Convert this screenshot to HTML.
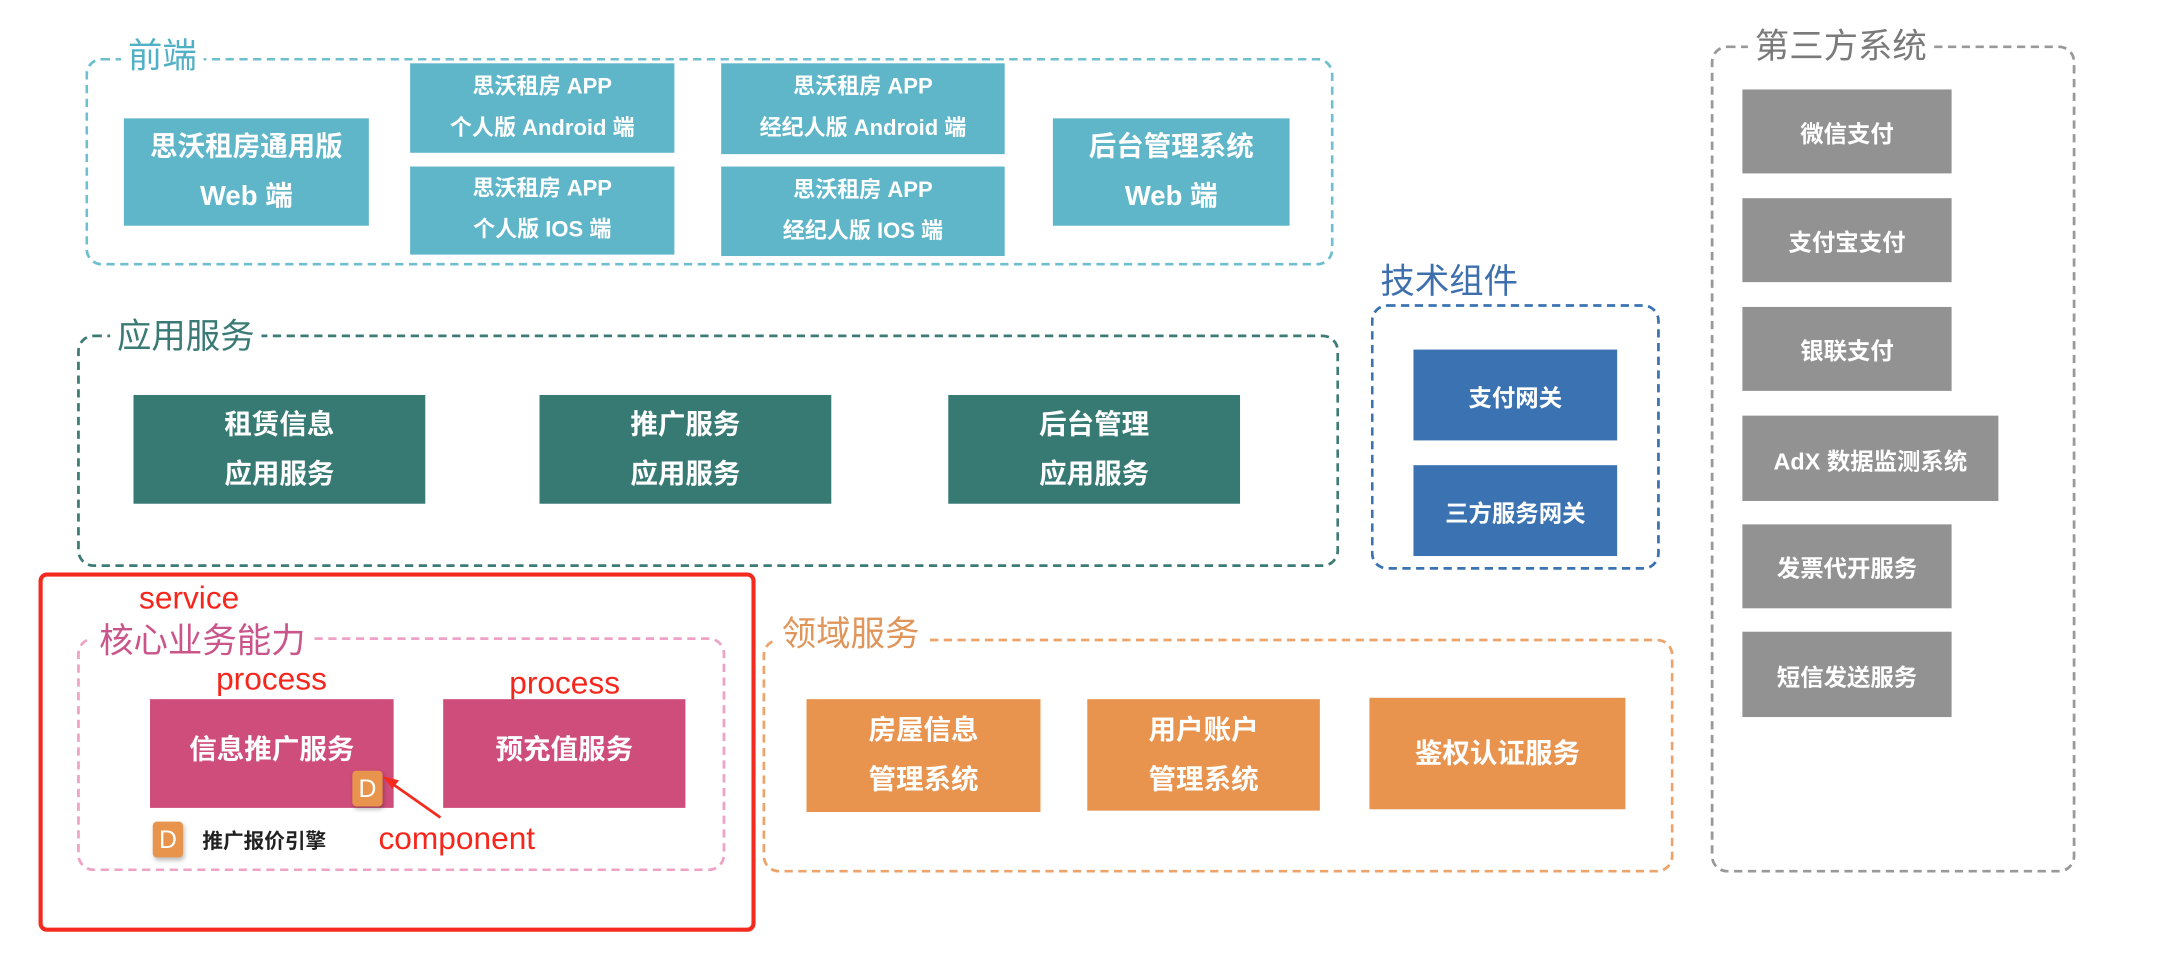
<!DOCTYPE html>
<html><head><meta charset="utf-8"><style>
html,body{margin:0;padding:0;background:#fff;width:2158px;height:954px;overflow:hidden}
#w{position:absolute;left:0;top:0;width:1568px;height:694px;transform:scale(1.3763);transform-origin:0 0;font-family:"Liberation Sans","Noto Sans CJK SC",sans-serif}
.g{position:absolute;border:2px dashed;border-radius:12px;box-sizing:border-box}
.t{position:absolute;background:#fff;font-size:25px;line-height:30px;padding:0 5px;white-space:nowrap}
.b{position:absolute;color:#fff;display:flex;align-items:center;justify-content:center;text-align:center;font-weight:bold;box-sizing:border-box}
.f20{font-size:20px;line-height:36px}
.f16{font-size:16px;line-height:30px}
.f17{font-size:17px}
.cy{background:#5fb6c9}.dt{background:#377a73}.bl{background:#3a72b2}.gr{background:#929292}.pk{background:#cf4d7a}.or{background:#e8934e}
.red{position:absolute;color:#f5261b;font-size:23px;white-space:nowrap}
.d{position:absolute;background:#e8944c;color:#fff;border-radius:3px;font-size:18px;display:flex;align-items:center;justify-content:center;box-shadow:1px 2px 3px rgba(0,0,0,.25)}
</style></head><body><div id="w">
<div class="g" style="left:62px;top:42px;width:907px;height:151px;border-color:#6fbfcf"></div>
<div class="t" style="left:88px;top:26px;color:#4fb0c6">前端</div>
<div class="b cy f20" style="left:90px;top:86px;width:178px;height:78px">思沃租房通用版<br>Web 端</div>
<div class="b cy f16" style="left:298px;top:46px;width:192px;height:65px">思沃租房 APP<br>个人版 Android 端</div>
<div class="b cy f16" style="left:298px;top:121px;width:192px;height:64px">思沃租房 APP<br>个人版 IOS 端</div>
<div class="b cy f16" style="left:524px;top:46px;width:206px;height:66px">思沃租房 APP<br>经纪人版 Android 端</div>
<div class="b cy f16" style="left:524px;top:121px;width:206px;height:65px">思沃租房 APP<br>经纪人版 IOS 端</div>
<div class="b cy f20" style="left:765px;top:86px;width:172px;height:78px">后台管理系统<br>Web 端</div>

<div class="g" style="left:56px;top:243px;width:917px;height:169px;border-color:#3d7b75"></div>
<div class="t" style="left:80px;top:230px;color:#3a7a74">应用服务</div>
<div class="b dt f20" style="left:97px;top:287px;width:212px;height:79px">租赁信息<br>应用服务</div>
<div class="b dt f20" style="left:392px;top:287px;width:212px;height:79px">推广服务<br>应用服务</div>
<div class="b dt f20" style="left:689px;top:287px;width:212px;height:79px">后台管理<br>应用服务</div>

<div class="g" style="left:996px;top:221px;width:210px;height:193px;border-color:#3b73b2"></div>
<div class="t" style="left:998px;top:190px;color:#3d6fae">技术组件</div>
<div class="b bl f17" style="left:1027px;top:254px;width:148px;height:66px">支付网关</div>
<div class="b bl f17" style="left:1027px;top:338px;width:148px;height:66px">三方服务网关</div>

<div class="g" style="left:1243px;top:33px;width:265px;height:601px;border-color:#999"></div>
<div class="t" style="left:1270px;top:19px;color:#7a7a7a">第三方系统</div>
<div class="b gr f17" style="left:1266px;top:65px;width:152px;height:61px">微信支付</div>
<div class="b gr f17" style="left:1266px;top:144px;width:152px;height:61px">支付宝支付</div>
<div class="b gr f17" style="left:1266px;top:223px;width:152px;height:61px">银联支付</div>
<div class="b gr f17" style="left:1266px;top:302px;width:186px;height:62px">AdX 数据监测系统</div>
<div class="b gr f17" style="left:1266px;top:381px;width:152px;height:61px">发票代开服务</div>
<div class="b gr f17" style="left:1266px;top:459px;width:152px;height:62px">短信发送服务</div>

<div style="position:absolute;left:28px;top:416px;width:521px;height:261px;border:3px solid #f52a1e;border-radius:6px;box-sizing:border-box"></div>
<div class="red" style="left:101px;top:421px">service</div>
<div class="g" style="left:56px;top:463px;width:471px;height:170px;border-color:#eea3c6"></div>
<div class="t" style="left:67px;top:451px;color:#c9558a">核心业务能力</div>
<div class="red" style="left:157px;top:480px">process</div>
<div class="red" style="left:370px;top:483px">process</div>
<div class="b pk f20" style="left:109px;top:508px;width:177px;height:79px;padding-bottom:6px">信息推广服务</div>
<div class="b pk f20" style="left:322px;top:508px;width:176px;height:79px;padding-bottom:6px">预充值服务</div>
<div class="d" style="left:256px;top:560px;width:22px;height:26px">D</div>
<svg style="position:absolute;left:0;top:0" width="1568" height="694"><line x1="320" y1="594" x2="283" y2="568" stroke="#f52a1e" stroke-width="2"/><polygon points="278,564 290,567 285,573" fill="#f52a1e"/></svg>
<div class="d" style="left:111px;top:597px;width:22px;height:26px">D</div>
<div style="position:absolute;left:147px;top:600px;font-size:15px;color:#222;font-weight:bold">推广报价引擎</div>
<div class="red" style="left:275px;top:596px">component</div>

<div class="g" style="left:554px;top:464px;width:662px;height:170px;border-color:#eca46c"></div>
<div class="t" style="left:563px;top:446px;color:#e0955a">领域服务</div>
<div class="b or f20" style="left:586px;top:508px;width:170px;height:82px">房屋信息<br>管理系统</div>
<div class="b or f20" style="left:790px;top:508px;width:169px;height:81px">用户账户<br>管理系统</div>
<div class="b or f20" style="left:995px;top:507px;width:186px;height:81px">鉴权认证服务</div>
</div></body></html>
